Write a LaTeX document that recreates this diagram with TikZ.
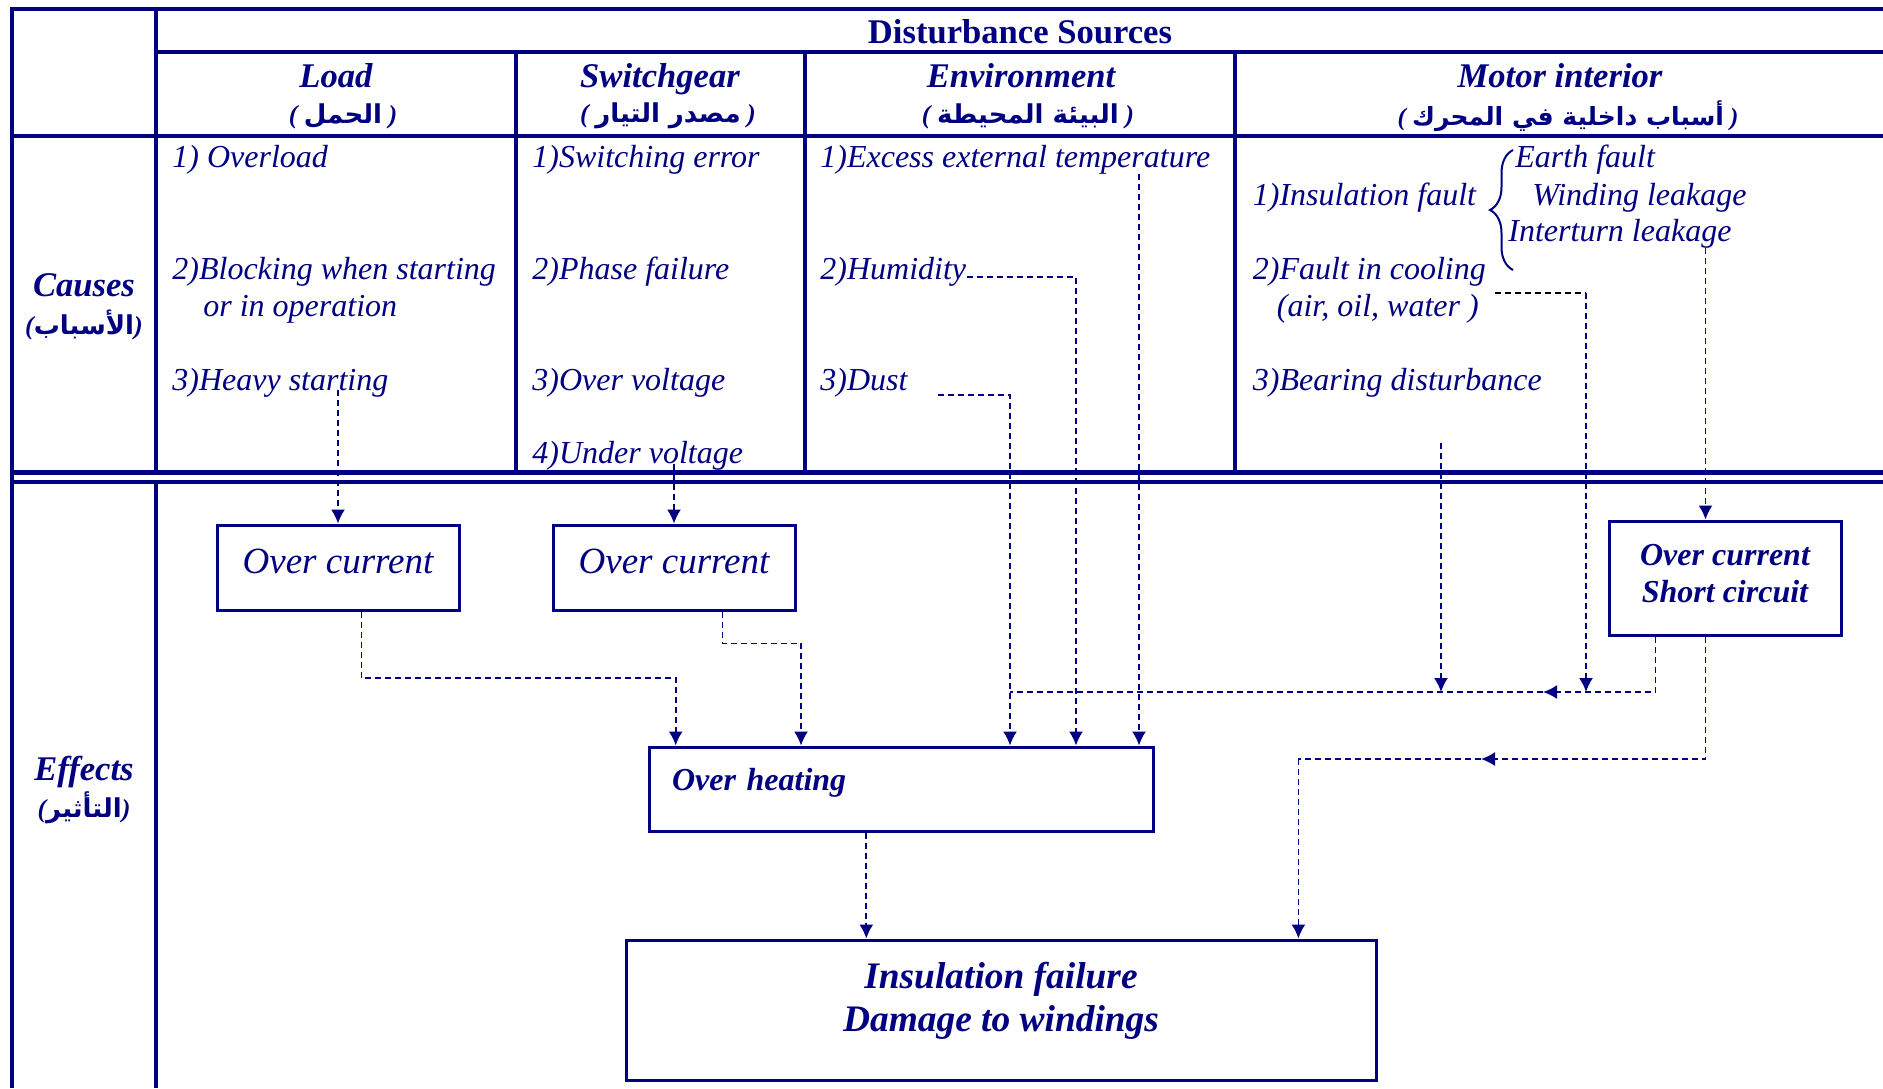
\documentclass[tikz,border=0pt]{standalone}
\usepackage{fontspec}
\setmainfont{Liberation Serif}
\newfontfamily\arabicfont[Script=Arabic]{DejaVu Sans}
\TeXXeTstate=1
\usetikzlibrary{arrows.meta,decorations.pathreplacing}
\definecolor{navy}{RGB}{0,0,128}
\newcommand{\artxt}[1]{{\arabicfont\bfseries\upshape\beginR #1\endR}}

\begin{document}
\begin{tikzpicture}[
  x=0.5pt, y=-0.5pt,
  grid/.style={navy, line width=2pt},
  head/.style={text=navy, font=\fontsize{17.3}{20}\selectfont\bfseries\itshape, anchor=base, inner sep=0pt},
  arhead/.style={text=navy, font=\fontsize{13}{15}\selectfont\bfseries\itshape, inner sep=0pt},
  cause/.style={text=navy, font=\fontsize{16}{19}\selectfont\itshape, anchor=base west, inner sep=0pt},
  effbox/.style={draw=navy, line width=1.5pt, text=navy, align=center, inner sep=0pt},
  flow/.style={navy, line width=0.85pt, dash pattern=on 3pt off 2pt},
  arrow/.style={flow, -{Latex[length=7pt,width=7pt]}}
]
\useasboundingbox (0,0) rectangle (1883,1088);

\draw[grid] (1883,9) -- (12,9) -- (12,1088);
\draw[grid] (156,9) -- (156,472);
\draw[grid] (156,482) -- (156,1088);
\draw[grid] (156,52) -- (1883,52);
\draw[grid] (12,136) -- (1883,136);
\foreach \x in {516,805,1235}
  \draw[grid] (\x,52) -- (\x,472);
\draw[grid, line width=2.5pt] (12,472) -- (1883,472);
\draw[grid] (12,482) -- (1883,482);

\node[head, font=\fontsize{17.3}{20}\selectfont\bfseries] (dist) at (1020,43.5) {Disturbance Sources};
\node[head] (load) at (336,87) {Load};
\node[arhead] (loadar) at (343,116) {( \artxt{الحمل} )};
\node[head] (swg) at (660,87) {Switchgear};
\node[arhead] (swgar) at (668,116) {( \artxt{مصدر التيار} )};
\node[head] (env) at (1021,87) {Environment};
\node[arhead] (envar) at (1028,116) {( \artxt{البيئة المحيطة} )};
\node[head] (mot) at (1560,87) {Motor interior};
\node[arhead, font=\fontsize{12.5}{15}\selectfont\bfseries\itshape] (motar) at (1568,116) {( \artxt{أسباب داخلية في المحرك} )};

\node[head] (causes) at (84,296) {Causes};
\node[arhead] (causesar) at (84,325) {(\artxt{الأسباب})};
\node[head] (effects) at (84,780) {Effects};
\node[arhead] (effectsar) at (84,808) {(\artxt{التأثير})};

\node[cause] (ovl) at (172,167.5) {1) Overload};
\node[cause] (blk) at (172,279.5) {2)Blocking when starting};
\node[cause] (blkb) at (203,316.5) {or in operation};
\node[cause] (heavy) at (172,390) {3)Heavy starting};
\node[cause] (swerr) at (532,167.5) {1)Switching error};
\node[cause] (phase) at (532,279.5) {2)Phase failure};
\node[cause] (overv) at (532,390) {3)Over voltage};
\node[cause] (underv) at (532,463.5) {4)Under voltage};
\node[cause] (temp) at (820,167.5) {1)Excess external temperature};
\node[cause] (hum) at (820,279.5) {2)Humidity};
\node[cause] (dust) at (820,390) {3)Dust};
\node[cause] (insf) at (1252.5,205) {1)Insulation fault};
\node[cause] (earth) at (1515,167.5) {Earth fault};
\node[cause] (wind) at (1532,205) {Winding leakage};
\node[cause] (inter) at (1508,241) {Interturn leakage};
\node[cause] (cool) at (1252.5,279.5) {2)Fault in cooling};
\node[cause] (coolb) at (1276.5,316.5) {(air, oil, water )};
\node[cause] (bear) at (1252.5,390) {3)Bearing disturbance};
\draw[navy, line width=1pt, decorate, decoration={brace, amplitude=11.5pt}] (1513,270) -- (1513,150);

\node[effbox, minimum width=121pt, minimum height=42.5pt, text depth=6pt, font=\fontsize{18.5}{22}\selectfont\itshape] (oc1) at (338,567.5) {Over current};
\node[effbox, minimum width=121pt, minimum height=42.5pt, text depth=6pt, font=\fontsize{18.5}{22}\selectfont\itshape] (oc2) at (674,567.5) {Over current};
\node[effbox, minimum width=116pt, minimum height=57pt, text depth=5pt, font=\fontsize{16}{18.5}\selectfont\bfseries\itshape] (ocsc) at (1725,578) {Over current\\Short circuit};
\node[effbox, text width=229.5pt, inner xsep=11.25pt, minimum height=42pt, text depth=9.5pt, align=left, font=\fontsize{16}{19}\selectfont\bfseries\itshape] (heat) at (901.5,789) {Over heating};
\node[effbox, minimum width=375pt, minimum height=70pt, text depth=13pt, font=\fontsize{18.7}{21.8}\selectfont\bfseries\itshape] (insul) at (1001,1010) {Insulation failure\\Damage to windings};

\coordinate (tempS) at (1139,174);
\coordinate (dustS) at (938,395);
\coordinate (dustK) at (1010,395);
\coordinate (humK) at (1076,277);
\coordinate (bearS) at (1441,443);
\coordinate (coolS) at (1495,293);
\coordinate (coolK) at (1586,293);
\coordinate (leakS) at (1705.5,248);
\coordinate (j1) at (675.7,678);
\coordinate (j2) at (801,643.4);
\coordinate (bus) at (1010,692);
\coordinate (busArr) at (1543,692);
\coordinate (lowK) at (1298.4,759);
\coordinate (lowArr) at (1481,759);

\draw[arrow] (heavy.base -| oc1.north) -- (oc1.north);
\draw[arrow] (underv.base -| oc2.north) -- (oc2.north);
\draw[arrow] ([xshift=11.75pt]oc1.south) |- (j1) -- (j1 |- heat.north);
\draw[arrow] ([xshift=24.2pt]oc2.south) |- (j2) -- (j2 |- heat.north);
\draw[arrow] (dustS) -- (dustK) -- (dustK |- heat.north);
\draw[arrow] (hum.base east |- humK) -- (humK) -- (humK |- heat.north);
\draw[arrow] (tempS) -- (tempS |- heat.north);
\draw[arrow] (bearS) -- (bearS |- bus);
\draw[flow, black] (coolS) -- (coolK);
\draw[arrow] (coolK) -- (coolK |- bus);
\draw[arrow] (leakS) -- (leakS |- ocsc.north);
\draw[arrow] ([xshift=-34.7pt]ocsc.south) |- (busArr);
\draw[flow] (busArr) -- (bus);
\draw[arrow] ([xshift=-9.75pt]ocsc.south) |- (lowArr);
\draw[flow] (lowArr) -- (lowK);
\draw[arrow] (lowK) -- (lowK |- insul.north);
\draw[arrow] ([xshift=-17.6pt]heat.south) -- ([xshift=-17.6pt]heat.south |- insul.north);
\end{tikzpicture}
\end{document}
